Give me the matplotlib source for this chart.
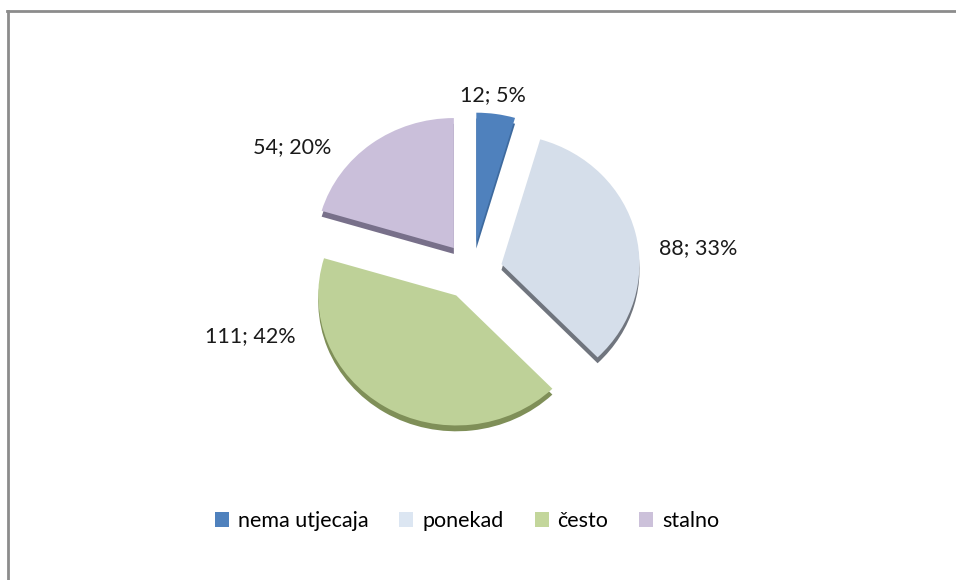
import matplotlib
matplotlib.use("Agg")
import matplotlib.pyplot as plt
from matplotlib.patches import Patch
from matplotlib.lines import Line2D

categories = ["nema utjecaja", "ponekad", "često", "stalno"]
values = [12, 88, 111, 54]
percents = ["5%", "33%", "42%", "20%"]

face_colors = ["#4F81BD", "#D5DEEA", "#BED198", "#CABFDA"]
legend_colors = ["#4F81BD", "#DCE6F2", "#C3D69B", "#CCC1DA"]
side_colors = ["#3E6A9E", "#70757E", "#7F8F58", "#78708A"]
label_pos = [(0.152, 1.354), (1.638, 0.177), (-1.609, -0.50), (-1.304, 0.954)]

plt.rcParams['font.family'] = ['Lato', 'DejaVu Sans']

W, H = 956, 580
fig = plt.figure(figsize=(W / 100, H / 100), dpi=100)
ax = fig.add_axes([0, 0, 1, 1])

explode = [0.22] * len(values)
depth = 0.045
# side/depth of the 3D pie
ax.pie(values, colors=side_colors, startangle=90, counterclock=False,
       explode=explode, center=(0, -depth), radius=1.0,
       wedgeprops=dict(linewidth=0))
# top surface
ax.pie(values, colors=face_colors, startangle=90, counterclock=False,
       explode=explode, center=(0, 0), radius=1.0,
       wedgeprops=dict(linewidth=0))

cx_px, cy_px = 472, 309  # pie centre (pixels from left / bottom)
rx, ry = 138, 130
ax.set_aspect('auto')
ax.set_xlim(-cx_px / rx, (W - cx_px) / rx)
ax.set_ylim(-cy_px / ry, (H - cy_px) / ry)
ax.axis('off')

for v, p, (x, y) in zip(values, percents, label_pos):
    ax.text(x, y, f"{v}; {p}", ha='center', va='center', fontsize=15.5,
            color='#1a1a1a')

handles = [Patch(facecolor=c, edgecolor='none') for c in legend_colors]
fig.legend(handles, categories, loc='center', bbox_to_anchor=(0.4885, 0.1017),
           ncol=4, frameon=False, fontsize=15.5, handlelength=0.65,
           handleheight=0.65, handletextpad=0.4, columnspacing=1.45)

# outer frame (left and top edges visible)
fig.add_artist(Line2D([7.5 / W, 7.5 / W], [0, 1 - 10.5 / H], transform=fig.transFigure,
                      color='#8C8C8C', linewidth=2))
fig.add_artist(Line2D([6.5 / W, 1], [1 - 10.5 / H, 1 - 10.5 / H], transform=fig.transFigure,
                      color='#8C8C8C', linewidth=2))

fig.savefig("out.png", dpi=100)
